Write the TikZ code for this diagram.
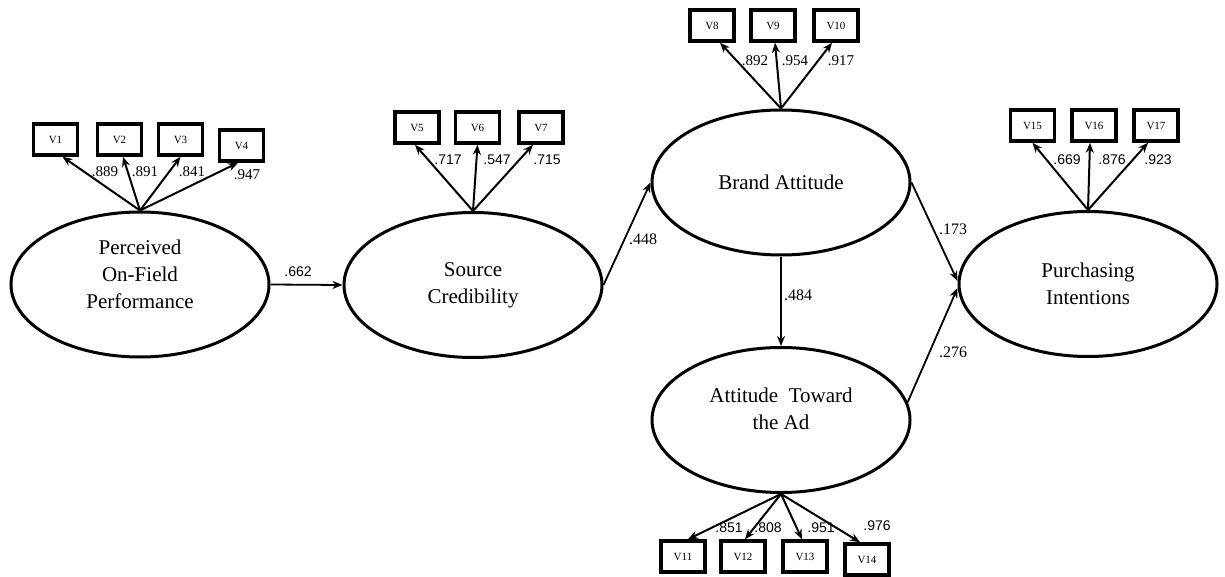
\documentclass[tikz,border=0pt]{standalone}
\usepackage{fontspec}
\setmainfont{Liberation Serif}
\setsansfont{Liberation Sans}
\usetikzlibrary{shapes.geometric,arrows.meta}

\begin{document}
\begin{tikzpicture}[x=1pt, y=-1pt,
  latent/.style = {shape=ellipse, draw, line width=3pt, align=center,
    minimum width=258pt, minimum height=145pt, inner sep=0pt,
    font=\fontsize{21}{27}\selectfont},
  item/.style = {shape=rectangle, draw, line width=3.5pt,
    minimum width=44pt, minimum height=31pt, inner sep=0pt,
    font=\fontsize{11}{12}\selectfont},
  load/.style = {line width=2pt, -{Stealth[length=10pt,width=8pt]}},
  effect/.style = {line width=1.8pt, -{Stealth[length=10pt,width=8pt]}},
  coef/.style = {inner sep=0pt, font=\fontsize{16}{18}\selectfont},
  lds/.style = {inner sep=0pt, font=\fontsize{15}{17}\selectfont},
  ldsans/.style = {inner sep=0pt, font=\sffamily\fontsize{14}{16}\selectfont}]

  \useasboundingbox (0,0) rectangle (1225,577);

  \node[latent, text depth=20pt] (PF) at (140,284.5) {Perceived\\On-Field\\Performance};
  \node[latent] (SC) at (473,285) {Source\\Credibility};
  \node[latent] (BA) at (781,182.5) {Brand Attitude};
  \node[latent, text depth=22pt] (AT) at (781,420) {Attitude~~Toward\\the Ad};
  \node[latent] (PI) at (1088,284) {Purchasing\\Intentions};

  \node[item] (V1) at (55.5,139.5) {V1};
  \node[item] (V2) at (119.5,139.5) {V2};
  \node[item] (V3) at (180.5,139.5) {V3};
  \node[item] (V4) at (241.5,145.5) {V4};
  \node[item] (V5) at (417,127.5) {V5};
  \node[item] (V6) at (477.5,127.5) {V6};
  \node[item] (V7) at (541,127.5) {V7};
  \node[item] (V8) at (712,25.5) {V8};
  \node[item] (V9) at (773,25.5) {V9};
  \node[item] (V10) at (836,25.5) {V10};
  \node[item] (V11) at (683,556.5) {V11};
  \node[item] (V12) at (743,556.5) {V12};
  \node[item] (V13) at (805,556.5) {V13};
  \node[item] (V14) at (867,559.5) {V14};
  \node[item] (V15) at (1032.5,125.5) {V15};
  \node[item] (V16) at (1094,125.5) {V16};
  \node[item] (V17) at (1156,125.5) {V17};

  \draw[load] (PF.north) -- ([xshift=7pt]V1.south);
  \draw[load] (PF.north) -- ([xshift=3.5pt]V2.south);
  \draw[load] (PF.north) -- (V3.south);
  \draw[load] (PF.north) -- ([xshift=-3.5pt]V4.south);
  \draw[load] (SC.north) -- ([xshift=-2pt]V5.south);
  \draw[load] (SC.north) -- (V6.south);
  \draw[load] (SC.north) -- ([xshift=-8pt]V7.south);
  \draw[load] (BA.north) -- ([xshift=8pt]V8.south);
  \draw[load] (BA.north) -- ([xshift=2pt]V9.south);
  \draw[load] (BA.north) -- ([xshift=-4pt]V10.south);
  \draw[load] (AT.south) -- ([xshift=5pt]V11.north);
  \draw[load] (AT.south) -- ([xshift=2pt]V12.north);
  \draw[load] (AT.south) -- ([xshift=-3pt]V13.north);
  \draw[load] (AT.south) -- ([xshift=-7pt]V14.north);
  \draw[load] (PI.north) -- (V15.south);
  \draw[load] (PI.north) -- ([xshift=-4pt]V16.south);
  \draw[load] (PI.north) -- ([xshift=-8pt]V17.south);

  \draw[effect] (PF.east) -- (SC.west);
  \draw[effect] (SC.east) -- (BA.west);
  \draw[effect] (BA.south) -- (AT.north);
  \draw[effect] (BA.east) -- ([yshift=3pt]PI.west);
  \draw[effect] (AT.8) -- ([yshift=-4pt]PI.west);

  \node[ldsans] (c1) at (298,272) {.662};
  \node[coef] (c2) at (643,239) {.448};
  \node[coef] (c3) at (798,295) {.484};
  \node[coef] (c4) at (953,229) {.173};
  \node[coef] (c5) at (953,352) {.276};

  \node[lds] (l1) at (105,172) {.889};
  \node[lds] (l2) at (145,172) {.891};
  \node[lds] (l3) at (192,172) {.841};
  \node[lds] (l4) at (247,175) {.947};
  \node[ldsans] (l5) at (448,160) {.717};
  \node[ldsans] (l6) at (497,160) {.547};
  \node[ldsans] (l7) at (547,160) {.715};
  \node[lds] (l8) at (755,61) {.892};
  \node[lds] (l9) at (795,61) {.954};
  \node[lds] (l10) at (841,61) {.917};
  \node[ldsans] (l11) at (729,528) {.851};
  \node[ldsans] (l12) at (768,528) {.808};
  \node[ldsans] (l13) at (821,528) {.951};
  \node[ldsans] (l14) at (877,526) {.976};
  \node[ldsans] (l15) at (1067,160) {.669};
  \node[ldsans] (l16) at (1112,160) {.876};
  \node[ldsans] (l17) at (1158,160) {.923};
\end{tikzpicture}
\end{document}
